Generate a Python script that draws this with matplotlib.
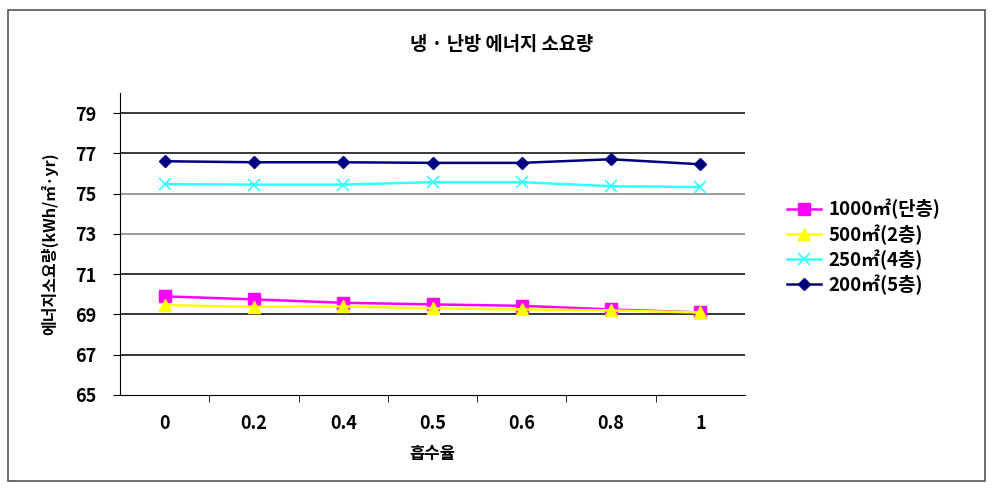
import matplotlib
matplotlib.use("Agg")
import matplotlib.pyplot as plt
from matplotlib.patches import Rectangle

plt.rcParams['font.family'] = ['Noto Sans CJK KR', 'DejaVu Sans']

categories = ["0", "0.2", "0.4", "0.5", "0.6", "0.8", "1"]
s1000 = [69.9, 69.75, 69.58, 69.5, 69.43, 69.25, 69.1]
s500 = [69.47, 69.38, 69.4, 69.3, 69.25, 69.2, 69.1]
s250 = [75.47, 75.45, 75.45, 75.57, 75.57, 75.37, 75.33]
s200 = [76.61, 76.56, 76.56, 76.53, 76.53, 76.71, 76.46]
labels = ["1000㎡(단층)", "500㎡(2층)", "250㎡(4층)", "200㎡(5층)"]
yticks = [65, 67, 69, 71, 73, 75, 77, 79]

fig = plt.figure(figsize=(9.94, 4.91), dpi=100)
fig.patches.append(Rectangle((8/994, 1-481/491), 977/994, 471/491, transform=fig.transFigure,
                             fill=False, edgecolor='#555555', linewidth=1.2))
ax = fig.add_axes([120/994, 1-395/491, 625/994, 302/491])
x = list(range(len(categories)))
ax.plot(x, s1000, color='#ff00ff', marker='s', markersize=8, linewidth=1.8, label=labels[0])
ax.plot(x, s500, color='#ffff00', marker='^', markersize=8, linewidth=1.8, label=labels[1])
ax.plot(x, s250, color='#33ffff', marker='x', markersize=9, markeredgewidth=1.2, linewidth=1.8, label=labels[2])
ax.plot(x, s200, color='#000080', marker='D', markersize=6.5, linewidth=1.8, label=labels[3])

ax.set_xlim(-0.5, len(categories) - 0.5)
ax.set_ylim(65, 80)
ax.set_yticks(yticks)
ax.set_yticklabels([str(v) for v in yticks], fontsize=13, fontweight='bold')
ax.set_xticks(x)
ax.set_xticklabels(categories, fontsize=13, fontweight='bold')
ax.set_xticks([i + 0.5 for i in range(len(categories) - 1)], minor=True)
ax.tick_params(axis='x', which='major', length=0, pad=14)
ax.tick_params(axis='x', which='minor', length=5, direction='out')
ax.tick_params(axis='y', length=5, direction='out', pad=12)
for v in yticks[1:]:
    ax.axhline(v, color='#808080' if v in (73, 75) else 'black', linewidth=1.1, zorder=0)
ax.spines['top'].set_visible(False)
ax.spines['right'].set_visible(False)
ax.set_xlabel("흡수율", fontsize=12, fontweight='bold', labelpad=8)
ax.set_ylabel("에너지소요량(kWh/㎡·yr)", fontsize=11.5, fontweight='bold', labelpad=12)
fig.text(502/994, 1-45/491, "냉 · 난방 에너지 소요량", ha='center', va='center', fontsize=13.5, fontweight='bold')
leg = ax.legend(loc='center left', bbox_to_anchor=(1.04, 0.49), frameon=False,
                prop={'weight': 'bold', 'size': 13.5}, handlelength=1.8, labelspacing=0.25,
                handletextpad=0.4)
fig.savefig("out.png", dpi=100)
